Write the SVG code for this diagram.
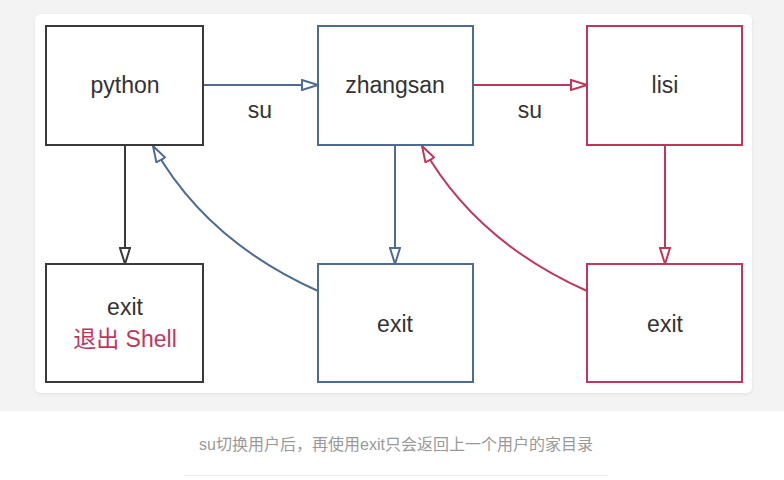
<svg xmlns="http://www.w3.org/2000/svg" width="784" height="480" viewBox="0 0 784 480">
<defs>
<style>
.box{fill:#fff;stroke-width:2}
.k{stroke:#3a3a3a}
.b{stroke:#4e6b94}
.r{stroke:#c0375c}
.t{font-family:"Liberation Sans",Arial,sans-serif;font-size:23px;fill:#333;text-anchor:middle}
.ln{fill:none;stroke-width:2}
</style>
<marker id="ak" viewBox="0 0 18 12" refX="17" refY="6" markerWidth="18" markerHeight="12" markerUnits="userSpaceOnUse" orient="auto"><path d="M1,1 L17,6 L1,11 Z" fill="#fff" stroke="#3a3a3a" stroke-width="2"/></marker>
<marker id="ab" viewBox="0 0 18 12" refX="17" refY="6" markerWidth="18" markerHeight="12" markerUnits="userSpaceOnUse" orient="auto"><path d="M1,1 L17,6 L1,11 Z" fill="#fff" stroke="#4e6b94" stroke-width="2"/></marker>
<marker id="ar" viewBox="0 0 18 12" refX="17" refY="6" markerWidth="18" markerHeight="12" markerUnits="userSpaceOnUse" orient="auto"><path d="M1,1 L17,6 L1,11 Z" fill="#fff" stroke="#c0375c" stroke-width="2"/></marker>
<filter id="sh" x="-5%" y="-5%" width="110%" height="110%"><feDropShadow dx="0" dy="1" stdDeviation="1.5" flood-color="#000" flood-opacity="0.08"/></filter>
</defs>
<rect x="0" y="0" width="784" height="480" fill="#fff"/>
<rect x="0" y="0" width="784" height="411" fill="#f3f3f3"/>
<rect x="35" y="14" width="717" height="379" rx="6" fill="#fff" filter="url(#sh)"/>

<g id="connectors">
<line class="ln b" x1="203" y1="85" x2="318" y2="85" marker-end="url(#ab)"/>
<line class="ln r" x1="473" y1="85" x2="587" y2="85" marker-end="url(#ar)"/>
<line class="ln k" x1="125" y1="145" x2="125" y2="264" marker-end="url(#ak)"/>
<line class="ln b" x1="395" y1="145" x2="395" y2="264" marker-end="url(#ab)"/>
<line class="ln r" x1="665" y1="145" x2="665" y2="264" marker-end="url(#ar)"/>
<path class="ln b" d="M318,291 Q206,241 153,146" marker-end="url(#ab)"/>
<path class="ln r" d="M587,291 Q475,241 422,146" marker-end="url(#ar)"/>
<text class="t" x="260" y="118">su</text>
<text class="t" x="530" y="118">su</text>
</g>

<g id="python"><rect class="box k" x="46" y="26" width="157" height="119"/><text class="t" x="125" y="93">python</text></g>
<g id="zhangsan"><rect class="box b" x="318" y="26" width="155" height="119"/><text class="t" x="395" y="93">zhangsan</text></g>
<g id="lisi"><rect class="box r" x="587" y="26" width="155" height="119"/><text class="t" x="665" y="93">lisi</text></g>
<g id="exit1"><rect class="box k" x="46" y="264" width="157" height="118"/><text class="t" x="125" y="315">exit</text><text class="t" x="125" y="347" style="fill:#c0375c;font-family:'Liberation Sans','Noto Sans CJK SC',sans-serif">退出 Shell</text></g>
<g id="exit2"><rect class="box b" x="318" y="264" width="155" height="118"/><text class="t" x="395" y="332">exit</text></g>
<g id="exit3"><rect class="box r" x="587" y="264" width="155" height="118"/><text class="t" x="665" y="332">exit</text></g>

<text x="396" y="450" style="font-family:'Liberation Sans','Noto Sans CJK SC',sans-serif;font-size:16px;fill:#999;text-anchor:middle">su切换用户后，再使用exit只会返回上一个用户的家目录</text>
<line x1="184" y1="475.5" x2="608" y2="475.5" stroke="#eee" stroke-width="1"/>
</svg>
